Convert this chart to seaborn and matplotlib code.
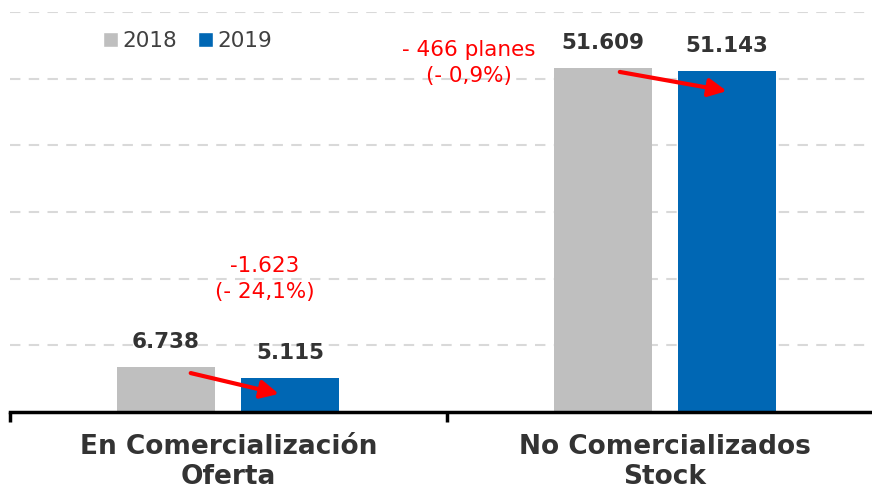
import numpy as np
import pandas as pd
import matplotlib
matplotlib.use("Agg")
import matplotlib.pyplot as plt
import seaborn as sns

# Values
categories = ["En Comercialización\nOferta", "No Comercializados\nStock"]
years = ["2018", "2019"]
values_2018 = [6738, 51609]
values_2019 = [5115, 51143]
value_labels_2018 = ["6.738", "51.609"]
value_labels_2019 = ["5.115", "51.143"]
change_labels = ["-1.623\n(- 24,1%)", "- 466 planes\n(- 0,9%)"]

COLORS = {"2018": "#BFBFBF", "2019": "#0067B4"}
TEXT_DARK = "#333333"

sns.set_theme(style="white")
plt.rcParams["font.family"] = ["DejaVu Sans"]

df = pd.DataFrame({
    "categoria": categories * 2,
    "anio": [years[0]] * 2 + [years[1]] * 2,
    "valor": values_2018 + values_2019,
})

fig = plt.figure(figsize=(8.72, 4.91), dpi=100)
ax = fig.add_axes([10 / 872, 1 - 412 / 491, 1 - 10 / 872, 400 / 491])

sns.barplot(data=df, x="categoria", y="valor", hue="anio", palette=COLORS,
            width=0.57, saturation=1, ax=ax, errorbar=None)

# narrow the bars so there is a gap inside each group
bar_w = 0.2245
for p in ax.patches:
    if p.get_height() == 0:
        continue
    cx = p.get_x() + p.get_width() / 2
    p.set_width(bar_w)
    p.set_x(cx - bar_w / 2)
    p.set_edgecolor("none")

ax.set_yticks(np.arange(10000, 60001, 10000))
ax.yaxis.grid(True, color="#D9D9D9", linestyle=(0, (5, 4)), linewidth=1.5)
ax.set_axisbelow(True)
ax.tick_params(axis="y", left=False, labelleft=False)
for side in ["top", "right", "left"]:
    ax.spines[side].set_visible(False)
ax.spines["bottom"].set_color("black")
ax.spines["bottom"].set_linewidth(2.5)

ax.set_xlabel("")
ax.set_ylabel("")
ax.set_xticks([0, 1])
ax.set_xticklabels(categories, fontsize=19, fontweight="bold", color=TEXT_DARK,
                   linespacing=1.2)
ax.tick_params(axis="x", bottom=False, pad=10)
ax.set_xticks([-0.5, 0.5], minor=True)
ax.tick_params(axis="x", which="minor", bottom=True, direction="out",
               length=7, width=2.5, color="black")

ax.set_ylim(0, 60000)
ax.set_xlim(-0.5, 1.5 - 11 / 436.5)

# value labels
off = 0.1425
for i in range(len(categories)):
    ax.text(i - off, values_2018[i] + 2300, value_labels_2018[i], ha="center",
            va="bottom", fontsize=15.5, fontweight="bold", color=TEXT_DARK)
    ax.text(i + off, values_2019[i] + 2300, value_labels_2019[i], ha="center",
            va="bottom", fontsize=15.5, fontweight="bold", color=TEXT_DARK)

# change annotations
ax.text(0.084, 20000, change_labels[0], ha="center", va="center", fontsize=15.5,
        color="red", linespacing=1.38)
ax.text(0.551, 52300, change_labels[1], ha="center", va="center", fontsize=15.5,
        color="red", linespacing=1.38)

arrow_kw = dict(arrowstyle="-|>,head_length=0.9,head_width=0.45", color="red",
                lw=3, shrinkA=0, shrinkB=0)
ax.annotate("", xy=(0.116, values_2019[0] - 2400), xytext=(-0.086, values_2018[0] - 900),
            arrowprops=arrow_kw)
ax.annotate("", xy=(1.142, values_2019[1] - 3000), xytext=(0.897, values_2018[1] - 600),
            arrowprops=arrow_kw)

ax.legend(loc="upper left", bbox_to_anchor=(84 / 862, 0.975), ncol=2, frameon=False,
          fontsize=15.5, handlelength=0.7, handleheight=0.7, handletextpad=0.2,
          columnspacing=1.0, labelcolor="#404040", borderaxespad=0)

fig.savefig("out.png", dpi=100)
